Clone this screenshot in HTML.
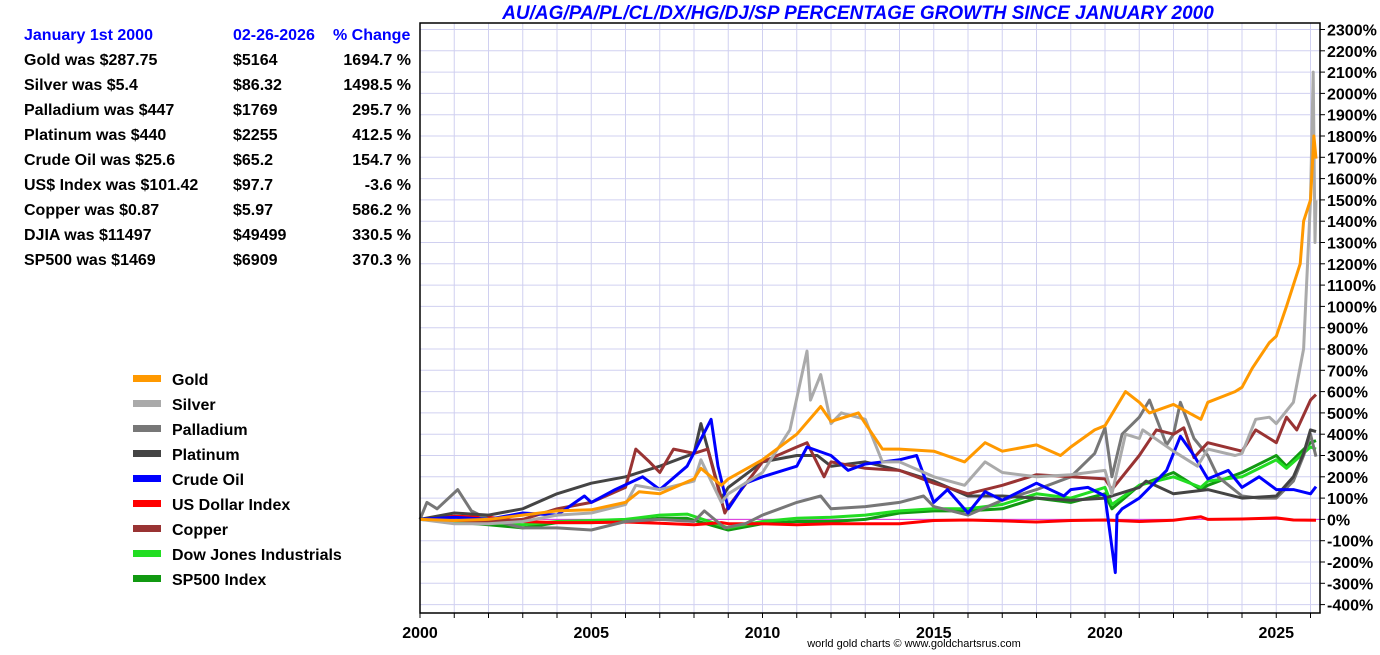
<!DOCTYPE html>
<html><head><meta charset="utf-8"><style>
body{margin:0;background:#fff;width:1380px;height:650px;overflow:hidden;font-family:"Liberation Sans",Arial,sans-serif}
svg text{font-family:"Liberation Sans",Arial,sans-serif}
</style></head><body>
<svg id="chart" width="1380" height="650" xmlns="http://www.w3.org/2000/svg">
<text x="858" y="19" text-anchor="middle" font-size="19" font-weight="bold" font-style="italic" fill="#0000ff">AU/AG/PA/PL/CL/DX/HG/DJ/SP PERCENTAGE GROWTH SINCE JANUARY 2000</text>
<g id="grid"></g>
<g id="series"></g>
<g id="axes"></g>
<g id="table"></g>
<g id="legend"></g>
<text x="914" y="647" text-anchor="middle" font-size="11" fill="#000">world gold charts © www.goldchartsrus.com</text>
</svg>
<script>
const yTicks=[2300,2200,2100,2000,1900,1800,1700,1600,1500,1400,1300,1200,1100,1000,900,800,700,600,500,400,300,200,100,0,-100,-200,-300,-400];
const xTickLabels=[2000,2005,2010,2015,2020,2025];
const seriesNames=["Gold","Silver","Palladium","Platinum","Crude Oil","US Dollar Index","Copper","Dow Jones Industrials","SP500 Index"];
const seriesColors=["#ff9900","#aaaaaa","#777777","#444444","#0000ff","#ff0000","#993333","#22dd22","#119911"];
const goldT=[2000,2001,2002,2003,2004,2005,2006,2006.4,2007,2008,2008.2,2008.8,2009,2010,2011,2011.7,2012,2012.8,2013,2013.5,2014,2015,2015.9,2016.5,2017,2018,2018.7,2019,2019.7,2020,2020.6,2021,2021.3,2022,2022.8,2023,2023.8,2024,2024.3,2024.8,2025,2025.3,2025.7,2025.8,2026,2026.1,2026.16];
const goldV=[0,-5,0,20,40,45,80,130,120,190,240,160,190,280,400,530,460,500,450,330,330,320,270,360,320,350,300,340,420,440,600,550,500,540,470,550,600,620,710,830,860,1000,1200,1400,1500,1800,1694];
const silverT=[2000,2001,2002,2003,2004,2005,2006,2006.3,2007,2008,2008.2,2008.8,2009,2010,2010.8,2011.3,2011.4,2011.7,2012,2012.3,2013,2013.5,2014,2015,2015.9,2016.5,2017,2018,2019,2020,2020.2,2020.6,2021,2021.1,2022,2022.7,2023,2023.8,2024,2024.4,2024.8,2025,2025.5,2025.8,2026,2026.08,2026.13,2026.16];
const silverV=[0,-20,-20,-10,20,30,70,160,140,180,280,80,120,220,420,790,560,680,450,500,470,270,270,200,160,270,220,200,210,230,120,400,380,420,320,250,330,300,310,470,480,450,550,800,1500,2100,1300,1498];
const pallT=[2000,2000.2,2000.5,2001.1,2001.5,2002,2003,2004,2005,2006,2007,2008,2008.3,2008.9,2009.5,2010,2011,2011.7,2012,2013,2014,2014.7,2015,2016,2017,2018,2019,2019.7,2020,2020.2,2020.5,2021,2021.3,2021.8,2022,2022.2,2022.6,2023,2023.3,2024,2024.5,2025,2025.5,2025.8,2026,2026.16];
const pallV=[0,80,50,140,40,0,-40,-40,-50,-10,0,-10,40,-40,-20,20,80,110,50,60,80,110,60,20,90,140,200,310,430,200,400,480,560,350,400,550,380,300,200,110,100,100,180,300,400,295];
const platT=[2000,2001,2002,2003,2004,2005,2006,2007,2008,2008.2,2008.8,2009,2010,2011,2011.6,2012,2013,2014,2015,2016,2017,2018,2019,2020,2021,2021.2,2022,2023,2024,2025,2025.5,2025.8,2026,2026.16];
const platV=[0,30,20,50,120,170,200,250,310,450,100,150,270,300,300,250,270,230,180,110,110,100,90,100,150,180,120,140,100,110,200,310,420,412];
const oilT=[2000,2001,2002,2003,2004,2004.8,2005,2005.7,2006.5,2007,2007.8,2008.5,2008.7,2009,2009.5,2010,2011,2011.3,2012,2012.5,2013,2014,2014.5,2015,2015.4,2016,2016.5,2017,2018,2018.8,2019,2019.5,2020,2020.3,2020.35,2020.5,2021,2021.8,2022.2,2022.6,2023,2023.6,2024,2024.5,2025,2025.5,2026,2026.16];
const oilV=[0,10,0,30,20,110,80,140,200,140,250,470,250,50,170,200,250,340,300,230,260,280,300,80,140,30,130,90,170,110,140,150,110,-250,20,50,100,230,390,300,190,230,150,200,140,140,120,154];
const usdT=[2000,2001,2002,2003,2004,2005,2006,2007,2008,2008.8,2009,2010,2011,2012,2013,2014,2015,2016,2017,2018,2019,2020,2021,2022,2022.8,2023,2024,2025,2025.5,2026.16];
const usdV=[0,15,10,-10,-15,-15,-12,-18,-25,-15,-20,-20,-25,-20,-20,-20,-5,-3,-7,-12,-5,-3,-10,-4,12,0,2,7,-3,-3.6];
const copT=[2000,2002,2003,2004,2005,2006,2006.3,2006.7,2007,2007.4,2008,2008.4,2008.9,2009,2010,2011,2011.3,2011.8,2012,2013,2014,2015,2016,2017,2018,2019,2020,2020.2,2021,2021.5,2022,2022.3,2022.6,2023,2024,2024.4,2025,2025.3,2025.6,2026,2026.16];
const copV=[0,-10,0,50,80,150,330,270,220,330,310,330,30,60,270,340,360,200,270,240,230,170,120,160,210,200,190,140,300,420,400,430,290,360,320,420,360,480,420,560,586];
const djT=[2000,2002,2003,2004,2005,2006,2007,2007.8,2009,2010,2011,2012,2013,2014,2015,2016,2017,2018,2019,2020,2020.2,2021,2022,2022.8,2023,2024,2025,2025.3,2026,2026.16];
const djV=[0,-15,-25,-10,-5,0,20,25,-40,-10,5,10,20,40,50,50,70,120,100,150,70,160,200,150,180,200,280,240,340,330];
const spT=[2000,2002,2003,2004,2005,2006,2007,2007.8,2009,2010,2011,2012,2013,2014,2015,2016,2017,2018,2019,2020,2020.2,2021,2022,2022.8,2023,2024,2025,2025.3,2026,2026.16];
const spV=[0,-25,-40,-15,-15,-10,5,5,-50,-20,-10,-10,0,30,40,40,50,100,80,120,50,160,220,140,160,220,300,250,360,370];
const tableStart=["Gold was $287.75","Silver was $5.4","Palladium was $447","Platinum was $440","Crude Oil was $25.6","US$ Index was $101.42","Copper was $0.87","DJIA was $11497","SP500 was $1469"];
const tableNow=["$5164","$86.32","$1769","$2255","$65.2","$97.7","$5.97","$49499","$6909"];
const tablePct=["1694.7 %","1498.5 %","295.7 %","412.5 %","154.7 %","-3.6 %","586.2 %","330.5 %","370.3 %"];

const NS="http://www.w3.org/2000/svg";
const X0=420,X1=1320,Y0=23,Y1=613;
const xs=t=>X0+(t-2000)*34.25;
const ys=v=>29.5+(2300-v)/100*21.3;
function mk(tag,attrs,parent){const e=document.createElementNS(NS,tag);for(const k in attrs)e.setAttribute(k,attrs[k]);parent.appendChild(e);return e;}
const grid=document.getElementById('grid'),axes=document.getElementById('axes'),ser=document.getElementById('series'),tbl=document.getElementById('table'),leg=document.getElementById('legend');
for(let y=2000;y<=2026;y++){const l=mk('line',{x1:xs(y),x2:xs(y),y1:Y0,y2:Y1,stroke:'#d0d0f0','stroke-width':1},grid);


const tk=mk('line',{x1:xs(y),x2:xs(y),y1:Y1,y2:Y1+5,stroke:'#000'},axes);

}
yTicks.forEach(v=>{const l=mk('line',{x1:X0,x2:X1,y1:ys(v),y2:ys(v),stroke:'#d0d0f0','stroke-width':1},grid);


const tk=mk('line',{x1:X1,x2:X1+5,y1:ys(v),y2:ys(v),stroke:'#000'},axes);


const t=mk('text',{x:X1+7,y:ys(v)+6,'font-size':16,'font-weight':'bold',fill:'#000'},axes);t.textContent=v+'%';

});
xTickLabels.forEach(y=>{const t=mk('text',{x:xs(y),y:638,'font-size':16,'font-weight':'bold','text-anchor':'middle',fill:'#000'},axes);t.textContent=y;

});
const fr=mk('rect',{x:X0,y:Y0,width:X1-X0,height:Y1-Y0,fill:'none',stroke:'#000','stroke-width':1.5},axes);


const data=[[goldT,goldV],[silverT,silverV],[pallT,pallV],[platT,platV],[oilT,oilV],[usdT,usdV],[copT,copV],[djT,djV],[spT,spV]];
const order=[8,7,5,2,3,6,4,1,0];
const zl=mk('line',{x1:X0,x2:X1,y1:ys(0),y2:ys(0),stroke:'#dd33dd','stroke-width':1},ser);


order.forEach(i=>{const [T,V]=data[i];const p=mk('polyline',{points:T.map((t,j)=>xs(t).toFixed(1)+','+ys(V[j]).toFixed(1)).join(' '),fill:'none',stroke:seriesColors[i],'stroke-width':3,'stroke-linejoin':'round'},ser);

});
[["January 1st 2000",24,'start'],["02-26-2026",233,'start'],["% Change",333,'start']].forEach(h=>{const t=mk('text',{x:h[1],y:40,'font-size':16,'font-weight':'bold',fill:'#0000ff','text-anchor':h[2]},tbl);t.textContent=h[0];

});
tableStart.forEach((s,i)=>{const y=65+i*25;
const a=mk('text',{x:24,y:y,'font-size':16,'font-weight':'bold',fill:'#000'},tbl);a.textContent=s;


const b=mk('text',{x:233,y:y,'font-size':16,'font-weight':'bold',fill:'#000'},tbl);b.textContent=tableNow[i];


const c=mk('text',{x:411,y:y,'font-size':16,'font-weight':'bold',fill:'#000','text-anchor':'end'},tbl);c.textContent=tablePct[i];

});
seriesNames.forEach((n,i)=>{const y=379+i*25;
const r=mk('rect',{x:133,y:y-4,width:28,height:7,fill:seriesColors[i]},leg);


const t=mk('text',{x:172,y:y+6,'font-size':16,'font-weight':'bold',fill:'#000'},leg);t.textContent=n;

});
</script>
</body></html>
